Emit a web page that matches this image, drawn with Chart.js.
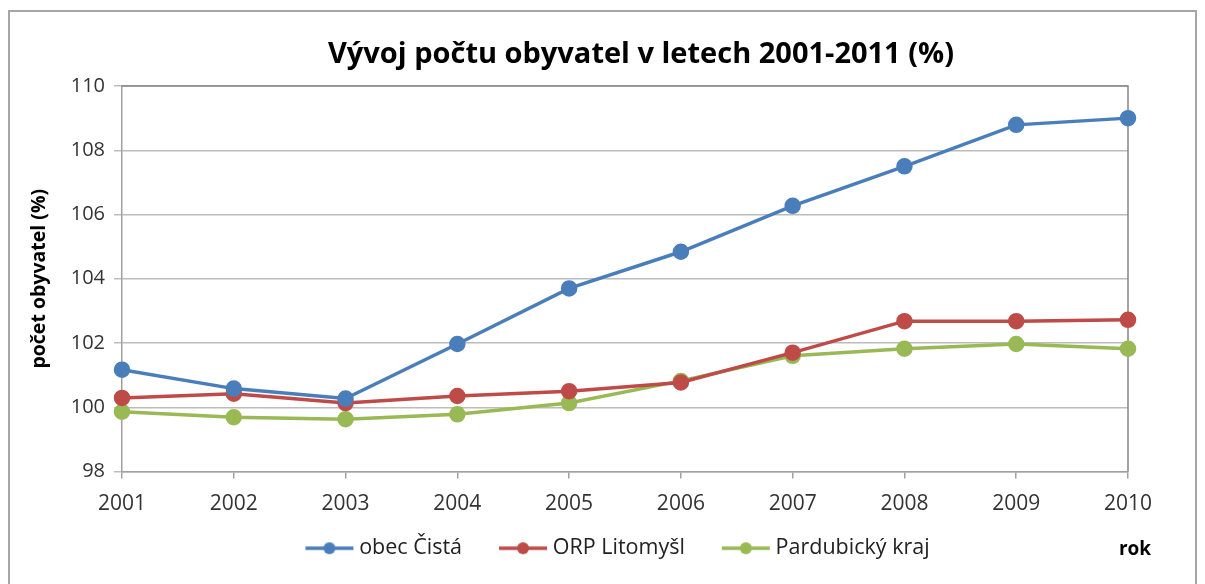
<!DOCTYPE html>
<html>
<head>
<meta charset="utf-8">
<script src="https://cdn.jsdelivr.net/npm/chart.js@4.4.1/dist/chart.umd.min.js"></script>
<style>
  html, body { margin: 0; padding: 0; background: #fff; }
  #wrap { position: relative; width: 1205px; height: 584px; }
</style>
</head>
<body>
<div id="wrap"><canvas id="chart" width="1205" height="584"></canvas></div>
<script>
'use strict';

const years = ['2001', '2002', '2003', '2004', '2005', '2006', '2007', '2008', '2009', '2010'];
const obecCista = [101.17, 100.58, 100.27, 101.97, 103.7, 104.84, 106.27, 107.5, 108.79, 109.0];
const orpLitomysl = [100.29, 100.42, 100.13, 100.35, 100.5, 100.77, 101.7, 102.68, 102.68, 102.72];
const pardubickyKraj = [99.86, 99.69, 99.63, 99.78, 100.13, 100.82, 101.6, 101.82, 101.97, 101.82];

const FONT = "'Open Sans', 'Noto Sans', sans-serif";
const TITLE = 'Vývoj počtu obyvatel v letech 2001-2011 (%)';

// legend marker: short line with a dot, placed inside a wider transparent canvas
// so that the gaps around it match the original legend spacing
const makeMarker = (color) => {
  const c = document.createElement('canvas');
  c.width = 72;
  c.height = 14;
  const g = c.getContext('2d');
  g.strokeStyle = color;
  g.lineWidth = 3.5;
  g.beginPath();
  g.moveTo(23, 7);
  g.lineTo(71, 7);
  g.stroke();
  g.fillStyle = color;
  g.beginPath();
  g.arc(47, 7, 6, 0, Math.PI * 2);
  g.fill();
  return c;
};

const series = [
  { label: 'obec Čistá', data: obecCista, color: '#4a7ebb' },
  { label: 'ORP Litomyšl', data: orpLitomysl, color: '#be4b48' },
  { label: 'Pardubický kraj', data: pardubickyKraj, color: '#98b954' },
];
const markers = series.map((s) => makeMarker(s.color));

const frame = {
  id: 'frame',
  afterLayout: (chart) => {
    // the original legend sits a little left of the plot centre
    chart.legend.left -= 16;
    chart.legend.right -= 16;
  },
  beforeDraw: (chart) => {
    const ctx = chart.ctx;
    ctx.save();
    ctx.strokeStyle = '#a6a6a6';
    ctx.lineWidth = 2;
    ctx.strokeRect(9, 11, 1187, 600);
    ctx.restore();
  },
  beforeDatasetsDraw: (chart) => {
    const { ctx, chartArea: a } = chart;
    ctx.save();
    ctx.strokeStyle = '#868686';
    ctx.lineWidth = 1.5;
    ctx.beginPath();
    ctx.moveTo(a.left, a.top);
    ctx.lineTo(a.right, a.top);
    ctx.lineTo(a.right, a.bottom);
    ctx.stroke();
    ctx.restore();
  },
  afterDraw: (chart) => {
    const { ctx, chartArea: a, legend } = chart;
    ctx.save();
    ctx.fillStyle = '#000';
    ctx.textAlign = 'center';
    ctx.textBaseline = 'middle';
    ctx.font = `bold 29px ${FONT}`;
    ctx.fillText(TITLE, (a.left + a.right) / 2 + 16, 55);
    ctx.font = `bold 19px ${FONT}`;
    ctx.fillText('rok', a.right + 7, legend.top + legend.height / 2 + 6);
    ctx.restore();
  },
};

new Chart(document.querySelector('#chart'), {
  type: 'line',
  data: {
    labels: years,
    datasets: series.map((s) => ({
      label: s.label,
      data: s.data,
      borderColor: s.color,
      backgroundColor: s.color,
      pointBackgroundColor: s.color,
      pointBorderColor: s.color,
      borderWidth: 3.5,
      pointRadius: 6.5,
      pointHoverRadius: 6.5,
      pointStyle: 'circle',
      tension: 0,
    })),
  },
  plugins: [frame],
  options: {
    responsive: false,
    animation: false,
    layout: { padding: { top: 86, left: 28, right: 77, bottom: 15 } },
    scales: {
      x: {
        offset: false,
        grid: { drawOnChartArea: false, color: '#a0a0a0', tickLength: 7, lineWidth: 1.5 },
        border: { color: '#a0a0a0', width: 1.5 },
        ticks: { color: '#333', font: { family: FONT, size: 21 }, padding: 13, maxRotation: 0 },
        afterFit: (scale) => { scale.height = 46; },
      },
      y: {
        min: 98,
        max: 110,
        grid: { color: '#bcbcbc', lineWidth: 1.5, tickLength: 8 },
        border: { color: '#a0a0a0', width: 1.5 },
        ticks: { stepSize: 2, color: '#333', font: { family: FONT, size: 20 }, padding: 9 },
        title: {
          display: true,
          text: 'počet obyvatel (%)',
          color: '#000',
          font: { family: FONT, size: 19.5, weight: 'bold' },
          padding: { top: 0, bottom: 4 },
        },
        afterFit: (scale) => { scale.width = 94; },
      },
    },
    plugins: {
      title: { display: false },
      legend: {
        position: 'bottom',
        fullSize: false,
        labels: {
          usePointStyle: true,
          pointStyleWidth: 60,
          color: '#222',
          font: { family: FONT, size: 21.5 },
          padding: 20,
          generateLabels: (chart) => chart.data.datasets.map((ds, i) => ({
            text: ds.label,
            pointStyle: markers[i],
            fillStyle: ds.borderColor,
            strokeStyle: ds.borderColor,
            lineWidth: 0,
            fontColor: '#222',
            datasetIndex: i,
            hidden: false,
          })),
        },
      },
      tooltip: { enabled: false },
    },
  },
});
</script>
</body>
</html>
